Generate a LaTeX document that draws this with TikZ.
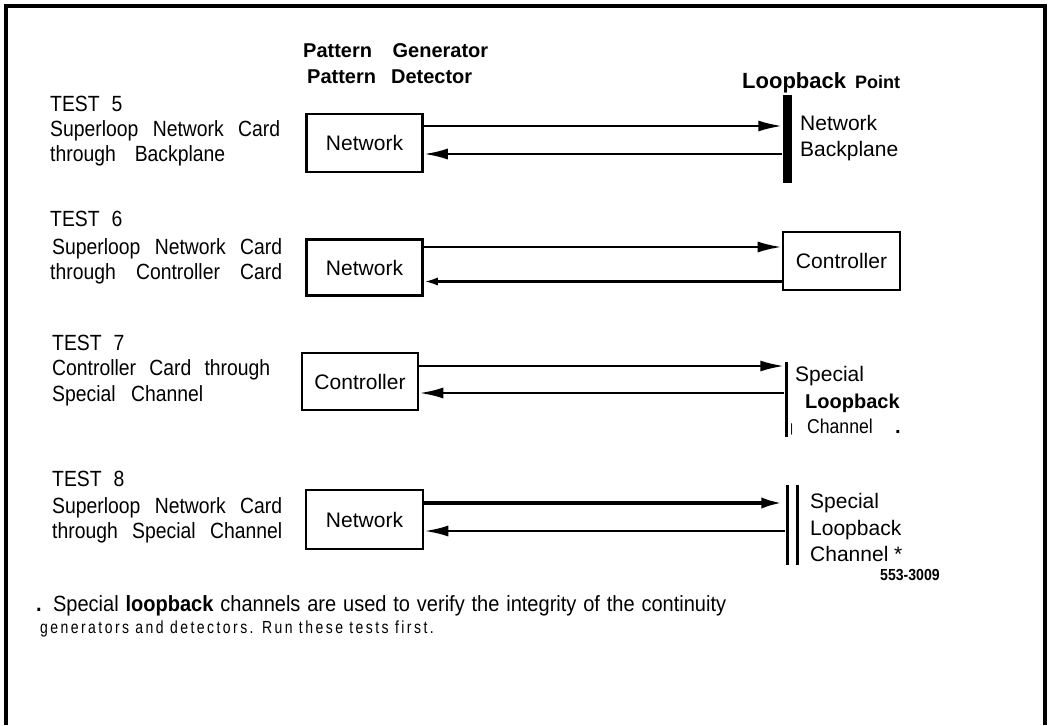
\documentclass[tikz,border=0pt]{standalone}
\usepackage{fontspec}
\setmainfont{Liberation Sans}
\newfontfamily\narrowfont[FakeStretch=0.88]{Liberation Sans}
\newfontfamily\notefont[FakeStretch=0.91]{Liberation Sans}
\newfontfamily\spacedfont[FakeStretch=0.8,LetterSpace=14]{Liberation Sans}
\usetikzlibrary{arrows.meta, positioning}
\tikzset{
    cardbox/.style={draw, line width=2.6pt, minimum width=116pt, minimum height=58pt, inner sep=0pt, font=\fontsize{21}{24}\selectfont},
    testtxt/.style={anchor=base west, inner sep=0pt, font=\narrowfont\fontsize{22}{25}\selectfont},
    hdrtxt/.style={anchor=base west, inner sep=0pt, font=\bfseries\fontsize{20}{24}\selectfont},
    lptxt/.style={anchor=base west, inner sep=0pt, font=\fontsize{21}{24}\selectfont},
    lpbar/.style={fill, inner sep=0pt, minimum width=#1},
    tolp/.style={line width=2.6pt, -{Latex[length=24pt,width=11pt]}},
    frlp/.style={line width=2.6pt, {Latex[length=24pt,width=11pt]}-},
}
\newcommand{\spread}[2]{\makebox[#1pt][s]{#2}}

\begin{document}
\begin{tikzpicture}[x=1pt, y=-1pt]
\useasboundingbox (0,0) rectangle (1051,725);
\draw[line width=4pt] (6,725) -- (6,6) -- (1045,6) -- (1045,725);
% heading
\node[hdrtxt] (pgen) at (303,57) {\spread{185}{Pattern Generator}};
\node[hdrtxt] (pdet) at (307,83) {\spread{165}{Pattern Detector}};
\node[anchor=base west, inner sep=0pt] (lbpt) at (742,88) {\bfseries\fontsize{22}{24}\selectfont Loopback\hspace{9pt}\fontsize{18}{20}\selectfont Point};
% TEST 5
\node[testtxt] (t5a) at (50,111) {TEST\hspace{12pt}5};
\node[testtxt] (t5b) at (50,136) {\spread{230}{Superloop Network Card}};
\node[testtxt] (t5c) at (50,161) {\spread{175}{through Backplane}};
\node[cardbox] (net5) at (364.5,143) {Network};
\node[lpbar=9pt, minimum height=88pt] (bar5) at (787,139) {};
\draw[tolp] ([yshift=17pt]net5.east) -- ([yshift=13pt]bar5.west);
\draw[frlp] ([yshift=-11pt]net5.east) -- ([yshift=-15pt]bar5.west);
\node[lptxt] (bp5a) at (800,130) {Network};
\node[lptxt] (bp5b) at (800,156) {Backplane};
% TEST 6
\node[testtxt] (t6a) at (50,226) {TEST\hspace{12pt}6};
\node[testtxt] (t6b) at (52,254) {\spread{230}{Superloop Network Card}};
\node[testtxt] (t6c) at (50,279) {\spread{232}{through Controller Card}};
\node[cardbox, minimum height=56pt] (net6) at (364.5,267.5) {Network};
\node[cardbox, minimum width=117pt] (ctl6) at (841.5,261) {Controller};
\draw[tolp] ([yshift=20.5pt]net6.east) -- ([yshift=14pt]ctl6.west);
\draw[line width=2.6pt, {Latex[length=14pt,width=8pt]}-] ([yshift=-14pt]net6.east) -- ([yshift=-20.5pt]ctl6.west);
% TEST 7
\node[testtxt] (t7a) at (52,350) {TEST\hspace{12pt}7};
\node[testtxt] (t7b) at (52,375) {\spread{218}{Controller Card through}};
\node[testtxt] (t7c) at (52,401) {\spread{151}{Special Channel}};
\node[cardbox, minimum height=57pt] (ctl7) at (360,381.5) {Controller};
\node[lpbar=3pt, minimum height=75pt] (lp7) at (786,399.5) {};
\draw[tolp] ([yshift=15.5pt]ctl7.east) -- ([yshift=33.5pt]lp7.west);
\draw[frlp] ([yshift=-11.5pt]ctl7.east) -- ([yshift=6.5pt]lp7.west);
\node[lptxt] (sp7a) at (795,381) {Special};
\node[lptxt, font=\bfseries\fontsize{20}{24}\selectfont] (sp7b) at (805,408) {Loopback};
\node[lptxt, font=\fontsize{12}{14}\selectfont] (sp7t) at (790,432) {|};
\node[lptxt, font=\narrowfont\fontsize{20}{24}\selectfont] (sp7c) at (807,433) {Channel};
\node[lptxt, font=\bfseries\fontsize{20}{24}\selectfont] (sp7d) at (895,433) {.};
% TEST 8
\node[testtxt] (t8a) at (52,486) {TEST\hspace{12pt}8};
\node[testtxt] (t8b) at (52,513) {\spread{230}{Superloop Network Card}};
\node[testtxt] (t8c) at (52,538) {\spread{230}{through Special Channel}};
\node[cardbox, minimum width=117pt, minimum height=59pt] (net8) at (364.5,519.5) {Network};
\node[lpbar=3pt, minimum height=80pt] (lp8a) at (787,525) {};
\node[lpbar=3pt, minimum height=80pt] (lp8b) at (797,525) {};
\draw[tolp, line width=4.5pt] ([yshift=16.5pt]net8.east) -- ([yshift=22pt]lp8a.west);
\draw[frlp] ([yshift=-11.5pt]net8.east) -- ([yshift=-6pt]lp8a.west);
\node[lptxt] (sp8a) at (810,508) {Special};
\node[lptxt] (sp8b) at (810,535) {Loopback};
\node[lptxt] (sp8c) at (810,561) {Channel *};
% figure number and note
\node[anchor=base west, inner sep=0pt, font=\narrowfont\bfseries\fontsize{16}{18}\selectfont] (fignum) at (880,580) {553-3009};
\node[anchor=base west, inner sep=0pt, font=\notefont\fontsize{22}{24}\selectfont] (note1) at (36,611) {\spread{690}{{\bfseries .} Special {\bfseries loopback} channels are used to verify the integrity of the continuity}};
\node[anchor=base west, inner sep=0pt, font=\spacedfont\fontsize{17.5}{20}\selectfont] (note2) at (40,633) {generators and detectors. Run these tests first.};
\end{tikzpicture}
\end{document}
